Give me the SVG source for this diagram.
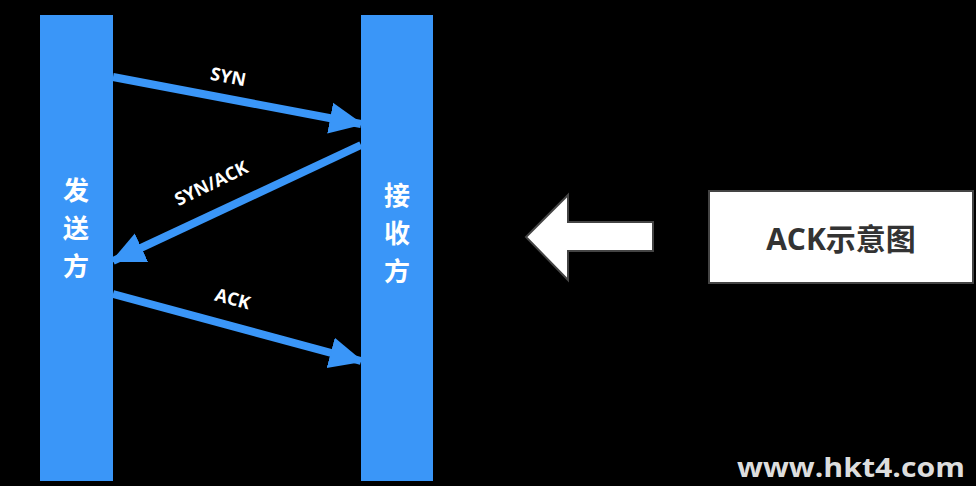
<svg xmlns="http://www.w3.org/2000/svg" width="976" height="486" viewBox="0 0 976 486">
<defs>
<style>
.bar{fill:#3a96f8}
.cn{font-family:"Noto Sans CJK SC",sans-serif;font-weight:bold;font-size:26px;fill:#fff;text-anchor:middle}
.lbl{font-family:"Open Sans","Noto Sans",sans-serif;font-weight:bold;font-size:18px;fill:#fff;text-anchor:middle}
.ln{stroke:#3a96f8;stroke-width:8;fill:none}
</style>
<marker id="ah" markerUnits="userSpaceOnUse" markerWidth="34" markerHeight="34" viewBox="0 0 26 26" refX="24" refY="13" orient="auto">
<path d="M0,1 L26,13 L0,25 Z" fill="#3a96f8"/>
</marker>
</defs>
<rect width="976" height="486" fill="#000"/>
<g id="sender">
<rect class="bar" x="40" y="15" width="73" height="466"/>
<text class="cn" x="76" y="200">发</text><text class="cn" x="76" y="238">送</text><text class="cn" x="76" y="276">方</text>
</g>
<g id="receiver">
<rect class="bar" x="361" y="15" width="72" height="466"/>
<text class="cn" x="397" y="205">接</text><text class="cn" x="397" y="243">收</text><text class="cn" x="397" y="281">方</text>
</g>
<g id="connectors">
<line class="ln" x1="113" y1="77" x2="361" y2="124" marker-end="url(#ah)"/>
<line class="ln" x1="361" y1="145" x2="113" y2="261" marker-end="url(#ah)"/>
<line class="ln" x1="113" y1="294" x2="361" y2="361" marker-end="url(#ah)"/>
<text class="lbl" transform="translate(227,83) rotate(11)">SYN</text>
<text class="lbl" transform="translate(214,189) rotate(-26)">SYN/ACK</text>
<text class="lbl" transform="translate(231,305) rotate(15)">ACK</text>
</g>
<g id="bigarrow">
<path d="M526,237 L568,195 L568,222 L653,222 L653,251 L568,251 L568,280 Z" fill="#fff" stroke="#444" stroke-width="2"/>
</g>
<g id="title">
<rect x="709" y="191" width="264" height="92" fill="#fff" stroke="#444" stroke-width="2"/>
<text x="841" y="250" font-family="'Open Sans','Noto Sans CJK SC',sans-serif" font-weight="bold" font-size="30" fill="#333" text-anchor="middle">ACK示意图</text>
</g>
<text x="737" y="477" textLength="228" lengthAdjust="spacingAndGlyphs" font-family="'Open Sans','DejaVu Sans',sans-serif" font-weight="bold" font-size="27" fill="#ddd">www.hkt4.com</text>
</svg>
